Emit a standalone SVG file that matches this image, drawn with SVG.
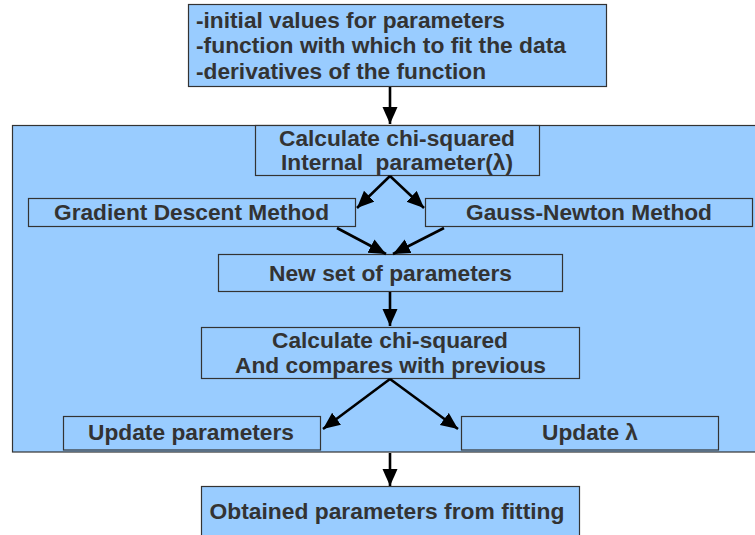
<svg xmlns="http://www.w3.org/2000/svg" width="755" height="535" viewBox="0 0 755 535">
<defs>
<style>
.box{fill:#99ccff;stroke:#333;stroke-width:1.2}
.t{font-family:"Liberation Sans",Arial,sans-serif;font-weight:bold;font-size:22px;fill:#333;white-space:pre}
.c{text-anchor:middle}
.ln{stroke:#000;stroke-width:2.6;fill:none;marker-end:url(#ah)}
</style>
<marker id="ah" markerUnits="userSpaceOnUse" markerWidth="18" markerHeight="16" refX="17" refY="7.5" orient="auto">
<path d="M0,0 L17,7.5 L0,15 Z" fill="#000"/>
</marker>
</defs>
<rect width="755" height="535" fill="#fff"/>
<g id="container"><rect class="box" x="12.5" y="125.5" width="750" height="326.5"/></g>
<g id="inputs">
<rect class="box" x="188.5" y="4.5" width="418" height="82"/>
<text class="t" x="196" y="28" textLength="309" lengthAdjust="spacingAndGlyphs">-initial values for parameters</text>
<text class="t" x="196" y="53" textLength="370" lengthAdjust="spacingAndGlyphs">-function with which to fit the data</text>
<text class="t" x="196" y="79" textLength="290" lengthAdjust="spacingAndGlyphs">-derivatives of the function</text>
</g>
<g id="calc1">
<rect class="box" x="255.5" y="125.5" width="284" height="50"/>
<text class="t c" x="397" y="146" textLength="236" lengthAdjust="spacingAndGlyphs">Calculate chi-squared</text>
<text class="t c" x="397" y="170" textLength="232" lengthAdjust="spacingAndGlyphs" xml:space="preserve">Internal  parameter(λ)</text>
</g>
<g id="gradient">
<rect class="box" x="28.5" y="198.5" width="327" height="28"/>
<text class="t c" x="191.5" y="220" textLength="275" lengthAdjust="spacingAndGlyphs">Gradient Descent Method</text>
</g>
<g id="gauss">
<rect class="box" x="425.5" y="198.5" width="327" height="28"/>
<text class="t c" x="589" y="220" textLength="246" lengthAdjust="spacingAndGlyphs">Gauss-Newton Method</text>
</g>
<g id="newset">
<rect class="box" x="218.5" y="254.5" width="344" height="37"/>
<text class="t c" x="390.5" y="281" textLength="243" lengthAdjust="spacingAndGlyphs">New set of parameters</text>
</g>
<g id="calc2">
<rect class="box" x="201.5" y="327.5" width="378" height="51"/>
<text class="t c" x="390" y="348" textLength="236" lengthAdjust="spacingAndGlyphs">Calculate chi-squared</text>
<text class="t c" x="390.5" y="373" textLength="311" lengthAdjust="spacingAndGlyphs">And compares with previous</text>
</g>
<g id="updparams">
<rect class="box" x="63.5" y="416.5" width="257" height="33.5"/>
<text class="t c" x="191" y="440" textLength="206" lengthAdjust="spacingAndGlyphs">Update parameters</text>
</g>
<g id="updlambda">
<rect class="box" x="461.5" y="416.5" width="257" height="33.5"/>
<text class="t c" x="590" y="440" textLength="96" lengthAdjust="spacingAndGlyphs">Update λ</text>
</g>
<g id="result">
<rect class="box" x="201.5" y="486.5" width="378" height="60"/>
<text class="t c" x="387" y="519" textLength="355" lengthAdjust="spacingAndGlyphs">Obtained parameters from fitting</text>
</g>
<g id="connectors">
<line class="ln" x1="390" y1="87" x2="390" y2="124"/>
<line class="ln" x1="390" y1="176" x2="357" y2="208"/>
<line class="ln" x1="390" y1="176" x2="424" y2="208"/>
<line class="ln" x1="337" y1="228" x2="386" y2="254"/>
<line class="ln" x1="444" y1="228" x2="393" y2="254"/>
<line class="ln" x1="390" y1="292" x2="390" y2="326"/>
<line class="ln" x1="390" y1="379" x2="323" y2="429"/>
<line class="ln" x1="390" y1="379" x2="458" y2="429"/>
<line class="ln" x1="390" y1="453" x2="390" y2="486"/>
</g>
</svg>
